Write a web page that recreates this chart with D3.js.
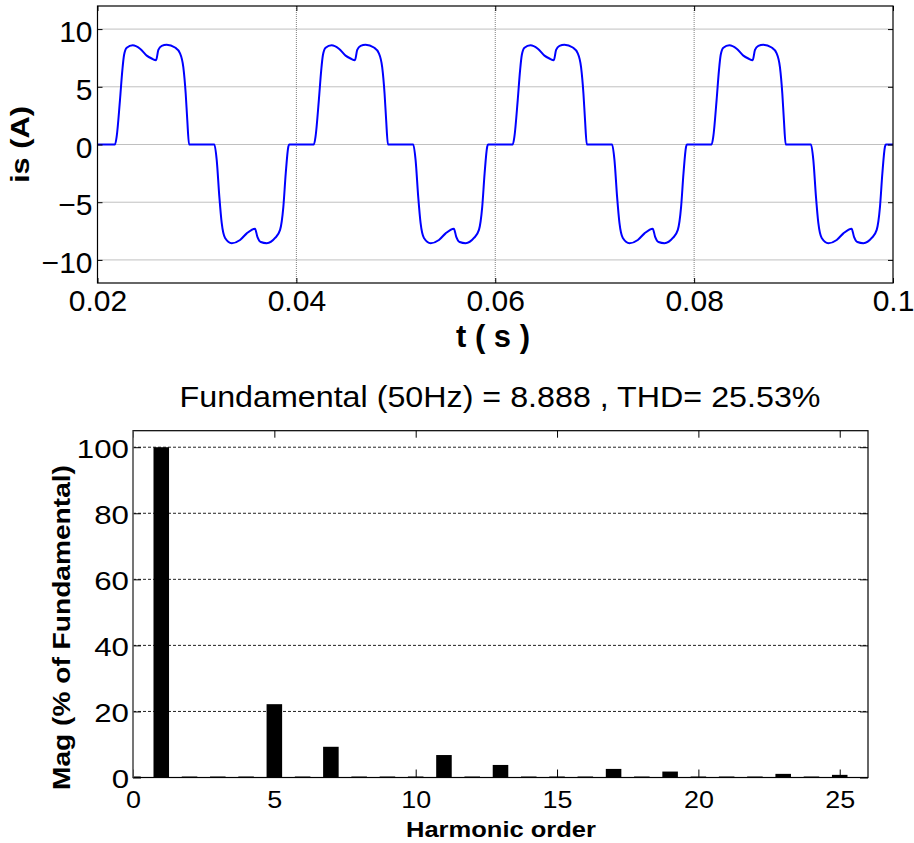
<!DOCTYPE html>
<html>
<head>
<meta charset="utf-8">
<script src="https://cdn.jsdelivr.net/npm/d3@7"></script>
<style>
  body { margin: 0; background: #fff; }
  text { font-family: "Liberation Sans", Arial, Helvetica, sans-serif; fill: #000; }
</style>
</head>
<body>
<div id="chartDiv"></div>
<script>
// one period of the source current (ms from period start, A)
const cycleTimeMs = [0, 1.76, 1.93, 2.26, 2.50, 2.67, 2.94, 3.54, 4.28, 4.95, 5.45, 5.89, 6.12, 6.46, 6.96,
    7.80, 8.30, 8.63, 8.87, 9.03, 9.21,
    11.75, 11.99, 12.25, 12.49, 12.83, 13.50, 14.34, 15.01, 15.84, 16.08, 16.42, 17.02,
    17.86, 18.36, 18.69, 18.93, 19.19, 19.27];
const cycleCurrent = [0, 0, 0.7, 3.85, 6.45, 7.75, 8.38, 8.6, 8.3, 7.7, 7.45, 7.3, 8.2, 8.55, 8.65,
    8.4, 7.9, 6.7, 4.4, 2.1, 0,
    0, -1.35, -4.5, -6.8, -8.1, -8.55, -8.27, -7.7, -7.3, -8.0, -8.45, -8.55,
    -8.1, -7.4, -5.4, -2.5, -0.2, 0];
const periodStarts = [0.02, 0.04, 0.06, 0.08];
const timeTicks = [0.02, 0.04, 0.06, 0.08, 0.1];
const currentTicks = [-10, -5, 0, 5, 10];

// FFT of the current, % of fundamental
const harmonicOrder = [0, 1, 2, 3, 4, 5, 6, 7, 8, 9, 10, 11, 12, 13, 14, 15, 16, 17, 18, 19, 20, 21, 22, 23, 24, 25];
const harmonicMag = [0.3, 100, 0.3, 0.3, 0.3, 22.2, 0.3, 9.3, 0.3, 0.3, 0.3, 6.8, 0.3, 3.8, 0.3, 0.3, 0.3, 2.6, 0.3, 1.8,
    0.3, 0.3, 0.3, 1.1, 0.3, 0.8];
const orderTicks = [0, 5, 10, 15, 20, 25];
const magTicks = [0, 20, 40, 60, 80, 100];
const titleText = "Fundamental (50Hz) = 8.888 , THD= 25.53%";

const svg = d3.select("#chartDiv")
    .append("svg")
    .attr("width", 914)
    .attr("height", 843)
    .style("background", "#fff");

// widen text to mimic the stretched screenshot
function stretch(sel, factor) {
    sel.each(function() {
        const w = this.getComputedTextLength();
        d3.select(this).attr("textLength", w * factor).attr("lengthAdjust", "spacingAndGlyphs");
    });
}

// ---------------- top: current waveform ----------------
const p1 = { left: 97.5, right: 893, top: 6, bottom: 283 };
const x1 = d3.scaleLinear().domain([0.02, 0.1]).range([p1.left, p1.right]);
const y1 = d3.scaleLinear().domain([-12, 12]).range([p1.bottom, p1.top]);
const g1 = svg.append("g");

// grid
g1.selectAll(".hgrid").data(currentTicks).enter().append("line")
    .attr("x1", p1.left).attr("x2", p1.right)
    .attr("y1", d => y1(d)).attr("y2", d => y1(d))
    .style("stroke", "#808080").style("stroke-dasharray", "1,1");
g1.selectAll(".vgrid").data(timeTicks.slice(1, -1)).enter().append("line")
    .attr("x1", d => x1(d)).attr("x2", d => x1(d))
    .attr("y1", p1.top).attr("y2", p1.bottom)
    .style("stroke", "#808080").style("stroke-dasharray", "1,1");

// waveform
const wavePoints = [];
periodStarts.forEach(t0 => {
    cycleTimeMs.forEach((ms, k) => wavePoints.push({ t: t0 + ms / 1000, i: cycleCurrent[k] }));
});
wavePoints.push({ t: 0.1, i: 0 });

g1.append("path")
    .datum(wavePoints)
    .attr("fill", "none")
    .attr("stroke", "#0000ff")
    .attr("stroke-width", 2)
    .attr("d", d3.line().x(d => x1(d.t)).y(d => y1(d.i)).curve(d3.curveMonotoneX));

// axes (inward ticks)
const xb1 = g1.append("g").attr("transform", `translate(0,${p1.bottom})`)
    .call(d3.axisBottom(x1).tickValues(timeTicks).tickFormat(d => String(d)).tickSize(-5).tickPadding(7));
g1.append("g").attr("transform", `translate(0,${p1.top})`)
    .call(d3.axisTop(x1).tickValues(timeTicks).tickFormat("").tickSize(-5));
const yl1 = g1.append("g").attr("transform", `translate(${p1.left},0)`)
    .call(d3.axisLeft(y1).tickValues(currentTicks).tickSize(-5).tickPadding(5));
g1.append("g").attr("transform", `translate(${p1.right},0)`)
    .call(d3.axisRight(y1).tickValues(currentTicks).tickFormat("").tickSize(-5));
g1.selectAll(".domain").remove();
xb1.selectAll("text").style("font-size", "30px");
yl1.selectAll("text").style("font-size", "30px").attr("dy", "0.42em");

g1.append("rect")
    .attr("x", p1.left).attr("y", p1.top)
    .attr("width", p1.right - p1.left).attr("height", p1.bottom - p1.top)
    .attr("fill", "none").attr("stroke", "#000").attr("stroke-width", 1.2);

g1.append("text")
    .attr("transform", `translate(29,${(p1.top + p1.bottom) / 2}) rotate(-90)`)
    .attr("text-anchor", "middle")
    .attr("textLength", 77).attr("lengthAdjust", "spacingAndGlyphs")
    .style("font-size", "26px").style("font-weight", "bold")
    .text("is (A)");
g1.append("text")
    .attr("x", 493).attr("y", 347)
    .attr("text-anchor", "middle")
    .style("font-size", "31px").style("font-weight", "bold")
    .text("t ( s )");

// ---------------- bottom: harmonic spectrum ----------------
const p2 = { left: 133, right: 868, top: 430.7, bottom: 777.5 };
const x2 = d3.scaleLinear().domain([0, 26]).range([p2.left, p2.right]);
const y2 = d3.scaleLinear().domain([0, 105]).range([p2.bottom, p2.top]);
const barWidth = 0.55;
const g2 = svg.append("g");

svg.append("defs").append("clipPath").attr("id", "clip2")
    .append("rect")
    .attr("x", p2.left).attr("y", p2.top)
    .attr("width", p2.right - p2.left).attr("height", p2.bottom - p2.top);

g2.selectAll(".grid").data(magTicks.slice(1)).enter().append("line")
    .attr("x1", p2.left).attr("x2", p2.right)
    .attr("y1", d => y2(d)).attr("y2", d => y2(d))
    .style("stroke", "#222").style("stroke-dasharray", "3,2");

g2.append("g").attr("clip-path", "url(#clip2)")
    .selectAll("rect").data(harmonicOrder).enter().append("rect")
    .attr("x", d => x2(d - barWidth / 2))
    .attr("width", x2(barWidth) - x2(0))
    .attr("y", (d, k) => y2(harmonicMag[k]))
    .attr("height", (d, k) => y2(0) - y2(harmonicMag[k]))
    .attr("fill", "#000");

const xb2 = g2.append("g").attr("transform", `translate(0,${p2.bottom})`)
    .call(d3.axisBottom(x2).tickValues(orderTicks).tickSize(-8).tickPadding(14.5));
g2.append("g").attr("transform", `translate(0,${p2.top})`)
    .call(d3.axisTop(x2).tickValues(orderTicks).tickFormat("").tickSize(-7));
const yl2 = g2.append("g").attr("transform", `translate(${p2.left},0)`)
    .call(d3.axisLeft(y2).tickValues(magTicks).tickSize(-8).tickPadding(4));
g2.append("g").attr("transform", `translate(${p2.right},0)`)
    .call(d3.axisRight(y2).tickValues(magTicks).tickFormat("").tickSize(-8));
g2.selectAll(".domain").remove();
xb2.selectAll("text").style("font-size", "23px").call(stretch, 1.17);
yl2.selectAll("text").style("font-size", "25px").attr("dy", "0.4em").call(stretch, 1.25);

g2.append("rect")
    .attr("x", p2.left).attr("y", p2.top)
    .attr("width", p2.right - p2.left).attr("height", p2.bottom - p2.top)
    .attr("fill", "none").attr("stroke", "#000").attr("stroke-width", 1.2);
g2.append("line")
    .attr("x1", p2.left).attr("x2", p2.left)
    .attr("y1", p2.top).attr("y2", p2.bottom)
    .style("stroke", "#808080").style("stroke-width", 1.2);

g2.append("text")
    .attr("x", 500).attr("y", 407)
    .attr("text-anchor", "middle")
    .attr("textLength", 641).attr("lengthAdjust", "spacingAndGlyphs")
    .style("font-size", "29px")
    .text(titleText);
g2.append("text")
    .attr("x", 501).attr("y", 837)
    .attr("text-anchor", "middle")
    .attr("textLength", 190).attr("lengthAdjust", "spacingAndGlyphs")
    .style("font-size", "22px").style("font-weight", "bold")
    .text("Harmonic order");
g2.append("text")
    .attr("transform", `translate(70,627.5) rotate(-90)`)
    .attr("text-anchor", "middle")
    .attr("textLength", 325).attr("lengthAdjust", "spacingAndGlyphs")
    .style("font-size", "23px").style("font-weight", "bold")
    .text("Mag (% of Fundamental)");
</script>
</body>
</html>
